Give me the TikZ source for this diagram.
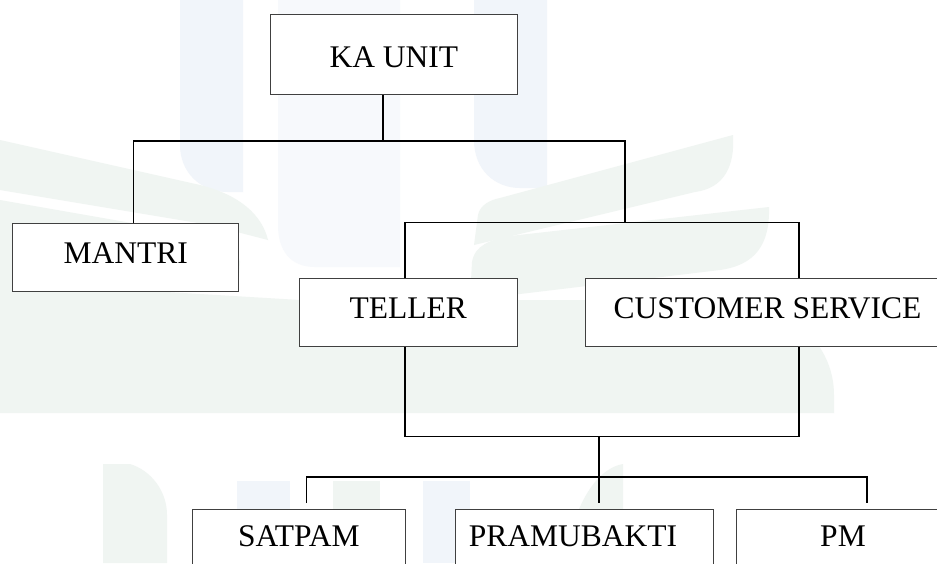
\documentclass[tikz,border=0pt]{standalone}
\usepackage{fontspec}
\setmainfont{Liberation Serif}
\definecolor{wmB}{RGB}{241,245,250}
\definecolor{wmG}{RGB}{240,245,242}
\begin{document}
\begin{tikzpicture}[x=1pt,y=-1pt,
  box/.style={draw=black!75, line width=1pt, fill=white, inner sep=0pt,
    text depth=0pt, font=\fontsize{31.5}{36}\selectfont},
  conn/.style={draw=black, line width=1.4pt}]
\clip (0,0) rectangle (937,563);
\fill[white] (0,0) rectangle (937,563);
% faint watermark
\fill[wmB] (180,0) -- (180,145) .. controls (180,172) and (200,192) .. (228,192) -- (243,192) -- (243,0) -- cycle;
\fill[wmB!60!white] (278,0) -- (278,225) .. controls (278,250) and (290,267) .. (315,267) -- (400,267) -- (400,0) -- cycle;
\fill[wmB] (474,0) -- (474,140) .. controls (474,170) and (495,188) .. (520,188) -- (547,188) -- (547,0) -- cycle;
\fill[wmG] (474,245) -- (478,215) .. controls (480,205) and (490,200) .. (500,198) -- (733,135) .. controls (735,165) and (725,188) .. (695,192) -- cycle;
\fill[wmG] (470,300) -- (472,262) .. controls (475,245) and (490,240) .. (510,236) -- (769,207) .. controls (770,245) and (755,265) .. (720,270) -- cycle;
\fill[wmG] (0,140) -- (200,185) .. controls (240,195) and (262,215) .. (268,240) -- (210,225) -- (0,190) -- cycle;
\fill[wmG] (0,200) -- (200,235) .. controls (225,240) and (238,250) .. (240,262) -- (238,291) -- (0,291) -- cycle;
\fill[wmG] (0,282) -- (300,300) -- (740,300) .. controls (800,310) and (834,350) .. (834,395) -- (834,413) -- (0,413) -- cycle;
\fill[wmG] (103,563) -- (103,464) -- (130,464) .. controls (150,470) and (167,490) .. (167,515) -- (167,563) -- cycle;
\fill[wmB] (237,481) rectangle (290,563);
\fill[wmG] (333,481) rectangle (380,563);
\fill[wmB] (423,481) rectangle (470,563);
\fill[wmG] (623,464) .. controls (590,470) and (570,520) .. (565,563) -- (623,563) -- cycle;
% boxes
\node[box, minimum width=246.3pt, minimum height=80pt, text height=26pt] (ka) at (393.85,54.7) {KA UNIT};
\node[box, minimum width=226pt, minimum height=67.3pt, text height=11.9pt] (mantri) at (125.7,257.35) {MANTRI};
\node[box, minimum width=217.7pt, minimum height=67.6pt, text height=11.6pt] (teller) at (408.15,312.5) {TELLER};
\node[box, minimum width=365pt, minimum height=67.6pt, text height=11.6pt] (cs) at (767.5,312.5) {CUSTOMER SERVICE};
\node[box, minimum width=212.3pt, minimum height=68pt, text height=6pt] (satpam) at (298.85,543) {SATPAM};
\node[box, minimum width=257.5pt, minimum height=68pt, text height=6pt] (pramu) at (584.25,543) {PRAMUBAKTI\hspace*{22.5pt}};
\node[box, minimum width=213.7pt, minimum height=68pt, text height=6pt] (pm) at (843,543) {PM};
% junctions
\coordinate (j1) at (383,141);
\coordinate (b1l) at (133.3,141);
\coordinate (b1r) at (625,141);
\coordinate (b2m) at (625,222.7);
\coordinate (b2l) at (405,222.7);
\coordinate (b2r) at (799,222.7);
\coordinate (b3l) at (405,436.3);
\coordinate (b3r) at (799,436.3);
\coordinate (j3) at (599,436.3);
\coordinate (b4l) at (306.7,477);
\coordinate (b4r) at (867,477);
% connectors
\draw[conn] (ka.south -| j1) -- (j1);
\draw[conn] (mantri.north -| b1l) -- (b1l) -- (b1r) -- (b2m);
\draw[conn] (teller.north -| b2l) -- (b2l) -- (b2r) -- (cs.north -| b2r);
\draw[conn] (teller.south -| b3l) -- (b3l) -- (b3r) -- (cs.south -| b3r);
\draw[conn, shorten >=5.3pt] (j3) -- (pramu.north -| j3);
\draw[conn, shorten <=5.3pt, shorten >=5.3pt] (satpam.north -| b4l) -- (b4l) -- (b4r) -- (pm.north -| b4r);
\end{tikzpicture}
\end{document}
